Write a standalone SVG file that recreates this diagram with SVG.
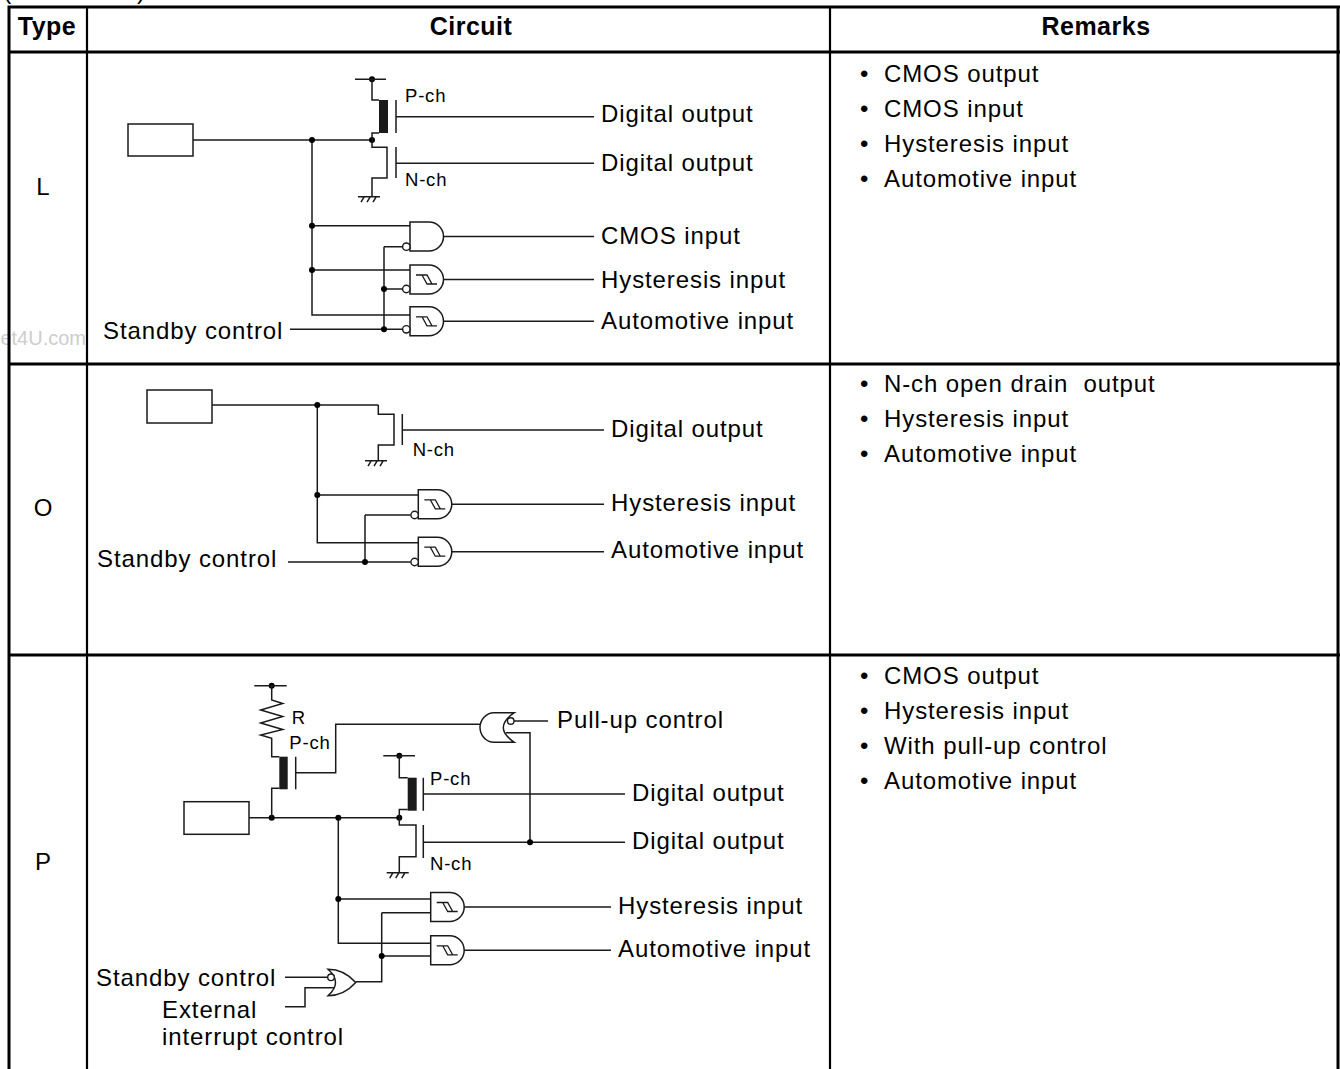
<svg xmlns="http://www.w3.org/2000/svg" width="1340" height="1069" viewBox="0 0 1340 1069">
<defs>
<style>
.t{font-family:"Liberation Sans",Arial,Helvetica,sans-serif;font-size:24px;letter-spacing:0.9px;fill:#000}
.s{font-family:"Liberation Sans",Arial,Helvetica,sans-serif;font-size:18.5px;letter-spacing:0.8px;fill:#000}
.h{font-family:"Liberation Sans",Arial,Helvetica,sans-serif;font-size:25px;font-weight:bold;letter-spacing:0.5px;text-anchor:middle;fill:#000}
.c{text-anchor:middle;letter-spacing:0}
.wm{font-family:"Liberation Sans",Arial,Helvetica,sans-serif;font-size:20px;fill:#cdcdcd;text-anchor:end}
.w{fill:none;stroke:#1a1a1a;stroke-width:1.5}
.gate{fill:#fff;stroke:#1a1a1a;stroke-width:1.5}
.hy{fill:none;stroke:#1a1a1a;stroke-width:1.3}
.bb{fill:#fff;stroke:#1a1a1a;stroke-width:1.4}
.ch{fill:#1a1a1a}
.d{fill:#000}
.tb{stroke:#000;stroke-width:3;fill:none}
.tv{stroke:#000;stroke-width:2.2;fill:none}
</style>
<path id="and" d="M0,-14.5 H19 A14.5,14.5 0 0 1 19,14.5 H0 Z"/>
<path id="hys" d="M6,-4.5 H17 L22,4.5 H27 M12,-4.5 L17,4.5 H22"/>
<path id="gnd" d="M0,0 H22 M6,0.5 L3,5.5 M12,0.5 L9,5.5 M18,0.5 L15,5.5"/>
</defs>
<rect x="0" y="0" width="1340" height="1069" fill="#fff"/>

<g id="watermark">
<text class="wm" x="86" y="345">et4U.com</text>
</g>

<g id="table">
<text class="t" x="3" y="-1" style="font-size:25px">(</text>
<text class="t" x="137" y="-1" style="font-size:25px">)</text>
<path class="tb" d="M7.5,7 H1340 M9,7 V1069 M1338,7 V1069 M7.5,52 H1340 M7.5,364 H1340 M7.5,655 H1340"/>
<path class="tv" d="M87,7 V1069 M830,7 V1069"/>
<text class="h" x="47" y="35">Type</text>
<text class="h" x="471" y="35">Circuit</text>
<text class="h" x="1096" y="35">Remarks</text>
<text class="t c" x="43" y="195">L</text>
<text class="t c" x="43" y="516">O</text>
<text class="t c" x="43" y="870">P</text>
</g>

<g id="remarks-L">
<text class="t" y="82"><tspan x="860">•</tspan><tspan x="884">CMOS output</tspan></text>
<text class="t" y="117"><tspan x="860">•</tspan><tspan x="884">CMOS input</tspan></text>
<text class="t" y="152"><tspan x="860">•</tspan><tspan x="884">Hysteresis input</tspan></text>
<text class="t" y="187"><tspan x="860">•</tspan><tspan x="884">Automotive input</tspan></text>
</g>
<g id="remarks-O">
<text class="t" y="392" xml:space="preserve"><tspan x="860">•</tspan><tspan x="884">N-ch open drain  output</tspan></text>
<text class="t" y="427"><tspan x="860">•</tspan><tspan x="884">Hysteresis input</tspan></text>
<text class="t" y="462"><tspan x="860">•</tspan><tspan x="884">Automotive input</tspan></text>
</g>
<g id="remarks-P">
<text class="t" y="684"><tspan x="860">•</tspan><tspan x="884">CMOS output</tspan></text>
<text class="t" y="719"><tspan x="860">•</tspan><tspan x="884">Hysteresis input</tspan></text>
<text class="t" y="754"><tspan x="860">•</tspan><tspan x="884">With pull-up control</tspan></text>
<text class="t" y="789"><tspan x="860">•</tspan><tspan x="884">Automotive input</tspan></text>
</g>

<g id="connectors">
<!-- L -->
<path class="w" d="M193,140 H372 M312,140 V315 H410 M312,225.7 H410 M312,270 H410 M384,246.7 V329.3 M384,246.7 H402.6 M384,289 H402.6 M290,329.3 H402.6"/>
<path class="w" d="M396,116.7 H594 M396,163.3 H594 M443.5,236.5 H594 M443.5,279.5 H594 M443.5,321.3 H594"/>
<!-- O -->
<path class="w" d="M212,405 H378.3 M317.3,405 V542.7 H418 M317.3,495 H418 M365,515 V562 M365,515 H410.6 M288,562 H410.6"/>
<path class="w" d="M402.3,430 H604 M451.8,504.3 H604 M451.8,551.7 H604"/>
<!-- P -->
<path class="w" d="M249,817.7 H399.3 M295.7,772.7 H335.7 V724.3 H480 M514,721 H548 M505.7,732.7 H530 V842.3"/>
<path class="w" d="M338.3,817.7 V943.3 H430.7 M338.3,899 H430.7 M381.7,912.7 V981.7 H355.7 M381.7,912.7 H430.7 M381.7,956 H430.7 M285,977.3 H327.7 M285,1006.7 H305 V987.7 H336"/>
<path class="w" d="M423.3,794 H625 M423.3,842.3 H625 M464.2,907 H611 M464.2,950.3 H611"/>
<!-- junction dots -->
<g class="d">
<circle cx="312" cy="140" r="3"/><circle cx="372" cy="140" r="3"/><circle cx="312" cy="225.7" r="3"/><circle cx="312" cy="270" r="3"/><circle cx="384" cy="289" r="3"/><circle cx="384" cy="329.3" r="3"/><circle cx="372" cy="79.3" r="3"/>
<circle cx="317.3" cy="405" r="3"/><circle cx="317.3" cy="495" r="3"/><circle cx="365" cy="562" r="3"/>
<circle cx="271.7" cy="685.7" r="3"/><circle cx="271.7" cy="817.7" r="3"/><circle cx="338.3" cy="817.7" r="3"/><circle cx="399.3" cy="817.7" r="3"/><circle cx="399.3" cy="755.7" r="3"/><circle cx="530" cy="842.3" r="3"/><circle cx="338.3" cy="899" r="3"/><circle cx="381.7" cy="956" r="3"/>
</g>
</g>

<!-- ===== Row L ===== -->
<g id="L-pad"><rect class="gate" x="128" y="124" width="65" height="32"/></g>
<g id="L-pch">
<path class="w" d="M355,79.3 H386 M372,79.3 V100 H379 M379,133 H372 V140 M396,100 V133"/>
<rect class="ch" x="379" y="100" width="9" height="33"/>
<text class="s" x="405" y="102">P-ch</text>
</g>
<g id="L-nch">
<path class="w" d="M372,140 V147.3 H387 V178 H372 V196.7 M396,147 V178"/>
<use href="#gnd" class="w" x="358" y="196.7"/>
<text class="s" x="405" y="186">N-ch</text>
</g>
<g id="L-gate1">
<use href="#and" class="gate" x="410" y="236.5"/>
<circle class="bb" cx="406.3" cy="246.7" r="3.7"/>
</g>
<g id="L-gate2">
<use href="#and" class="gate" x="410" y="279.5"/>
<use href="#hys" class="hy" x="410" y="279.5"/>
<circle class="bb" cx="406.3" cy="289" r="3.7"/>
</g>
<g id="L-gate3">
<use href="#and" class="gate" x="410" y="321.3"/>
<use href="#hys" class="hy" x="410" y="321.3"/>
<circle class="bb" cx="406.3" cy="329.3" r="3.7"/>
</g>
<g id="L-labels">
<text class="t" x="601" y="122">Digital output</text>
<text class="t" x="601" y="171">Digital output</text>
<text class="t" x="601" y="244">CMOS input</text>
<text class="t" x="601" y="288">Hysteresis input</text>
<text class="t" x="601" y="329">Automotive input</text>
<text class="t" x="103" y="339">Standby control</text>
</g>

<!-- ===== Row O ===== -->
<g id="O-pad"><rect class="gate" x="147" y="390" width="65" height="33"/></g>
<g id="O-nch">
<path class="w" d="M378.3,405 V414.3 H394 V445 H378.3 V460.7 M402.3,414 V445"/>
<use href="#gnd" class="w" x="365" y="460.7"/>
<text class="s" x="412.7" y="456">N-ch</text>
</g>
<g id="O-gate1">
<use href="#and" class="gate" x="418.3" y="504.3"/>
<use href="#hys" class="hy" x="418.3" y="504.3"/>
<circle class="bb" cx="414.6" cy="515" r="3.7"/>
</g>
<g id="O-gate2">
<use href="#and" class="gate" x="418.3" y="551.7"/>
<use href="#hys" class="hy" x="418.3" y="551.7"/>
<circle class="bb" cx="414.6" cy="562" r="3.7"/>
</g>
<g id="O-labels">
<text class="t" x="611" y="437">Digital output</text>
<text class="t" x="611" y="511">Hysteresis input</text>
<text class="t" x="611" y="558">Automotive input</text>
<text class="t" x="97" y="567">Standby control</text>
</g>

<!-- ===== Row P ===== -->
<g id="P-pad"><rect class="gate" x="184" y="801.7" width="65" height="32.6"/></g>
<g id="P-pullup">
<path class="w" d="M254.3,685.7 H286.7 M271.7,685.7 V700 L282.7,703.5 L260.7,710 L282.7,716.5 L260.7,723 L282.7,729.5 L260.7,735 L271.7,738.3 V756.7 H279.3 M279.3,788.3 H271.7 V817.7 M295.7,756.7 V789.3"/>
<rect class="ch" x="279.3" y="756.7" width="8.4" height="32.6"/>
<text class="s" x="291.7" y="724">R</text>
<text class="s" x="289.3" y="749.3">P-ch</text>
</g>
<g id="P-or-pullup">
<path class="gate" d="M514.3,712.7 H494 C486,712.7 480,720 480,727.5 C480,735 486,742.3 494,742.3 H514.3 Q492.3,727.5 514.3,712.7 Z"/>
<circle class="bb" cx="510.7" cy="721" r="3.3"/>
<text class="t" x="557" y="728">Pull-up control</text>
</g>
<g id="P-pch">
<path class="w" d="M383.3,755.7 H415 M399.3,755.7 V777.7 H407.7 M407.7,809.5 H399.3 V817.7 M423.3,777.7 V810.7"/>
<rect class="ch" x="407.7" y="777.7" width="9" height="33"/>
<text class="s" x="430" y="785">P-ch</text>
</g>
<g id="P-nch">
<path class="w" d="M399.3,817.7 V825 H416 V856.7 H399.3 V872.7 M423.3,825 V858"/>
<use href="#gnd" class="w" x="386.7" y="872.7"/>
<text class="s" x="430" y="870">N-ch</text>
</g>
<g id="P-gate1">
<use href="#and" class="gate" x="430.7" y="907"/>
<use href="#hys" class="hy" x="430.7" y="907"/>
</g>
<g id="P-gate2">
<use href="#and" class="gate" x="430.7" y="950.3"/>
<use href="#hys" class="hy" x="430.7" y="950.3"/>
</g>
<g id="P-or-standby">
<path class="gate" d="M328,969.3 Q344,969.3 355.7,982.5 Q344,995.7 328,995.7 Q343,982.5 328,969.3 Z"/>
<circle class="bb" cx="331" cy="977.3" r="3.3"/>
</g>
<g id="P-labels">
<text class="t" x="632" y="801">Digital output</text>
<text class="t" x="632" y="849">Digital output</text>
<text class="t" x="618" y="914">Hysteresis input</text>
<text class="t" x="618" y="957">Automotive input</text>
<text class="t" x="96" y="986">Standby control</text>
<text class="t" x="162" y="1018">External</text>
<text class="t" x="162" y="1045">interrupt control</text>
</g>
</svg>
